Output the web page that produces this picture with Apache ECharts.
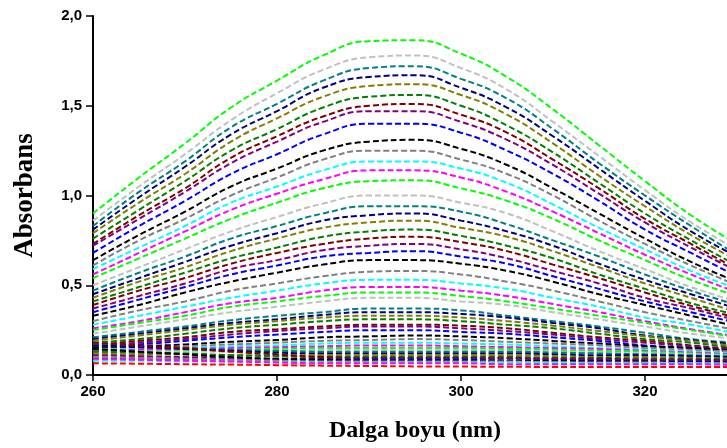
<!DOCTYPE html>
<html>
<head>
<meta charset="utf-8">
<title>Absorbans</title>
<script src="https://cdn.jsdelivr.net/npm/echarts@6/dist/echarts.min.js"></script>
<style>
  html, body { margin: 0; padding: 0; background: #ffffff; }
  #chart { width: 727px; height: 448px; }
</style>
</head>
<body>
<div id="chart"></div>
<script>
// Wavelengths (nm) at which each spectrum is sampled
const wavelengths = [260, 265, 270, 275, 280, 285, 290, 295, 300, 305, 310, 315, 320, 325, 330];

// Absorbance spectra, highest first
const spectra = [
  [0.90, 1.10, 1.29, 1.49, 1.64, 1.78, 1.86, 1.865, 1.79, 1.66, 1.48, 1.28, 1.08, 0.89, 0.73],
  [0.86, 1.05, 1.23, 1.42, 1.57, 1.70, 1.77, 1.78, 1.71, 1.59, 1.41, 1.22, 1.03, 0.85, 0.70],
  [0.83, 1.02, 1.19, 1.38, 1.51, 1.64, 1.71, 1.72, 1.65, 1.54, 1.37, 1.18, 1.00, 0.83, 0.67],
  [0.81, 0.99, 1.16, 1.34, 1.47, 1.60, 1.66, 1.67, 1.60, 1.49, 1.33, 1.15, 0.97, 0.80, 0.66],
  [0.79, 0.96, 1.12, 1.30, 1.43, 1.55, 1.61, 1.62, 1.56, 1.45, 1.29, 1.11, 0.94, 0.78, 0.64],
  [0.76, 0.92, 1.08, 1.25, 1.37, 1.49, 1.55, 1.56, 1.50, 1.39, 1.24, 1.07, 0.90, 0.75, 0.61],
  [0.73, 0.89, 1.04, 1.21, 1.33, 1.44, 1.50, 1.51, 1.45, 1.35, 1.20, 1.04, 0.87, 0.73, 0.59],
  [0.72, 0.87, 1.02, 1.18, 1.30, 1.41, 1.47, 1.47, 1.41, 1.31, 1.17, 1.01, 0.85, 0.71, 0.58],
  [0.68, 0.83, 0.97, 1.12, 1.23, 1.34, 1.40, 1.40, 1.35, 1.25, 1.12, 0.97, 0.81, 0.68, 0.55],
  [0.64, 0.78, 0.91, 1.05, 1.15, 1.25, 1.30, 1.31, 1.26, 1.17, 1.04, 0.90, 0.76, 0.63, 0.52],
  [0.61, 0.75, 0.87, 1.00, 1.10, 1.20, 1.25, 1.25, 1.20, 1.12, 1.00, 0.86, 0.73, 0.61, 0.50],
  [0.59, 0.71, 0.83, 0.96, 1.05, 1.14, 1.19, 1.19, 1.15, 1.07, 0.95, 0.82, 0.70, 0.58, 0.48],
  [0.56, 0.68, 0.80, 0.92, 1.01, 1.09, 1.14, 1.14, 1.10, 1.02, 0.91, 0.79, 0.67, 0.56, 0.46],
  [0.54, 0.65, 0.76, 0.87, 0.96, 1.04, 1.08, 1.085, 1.04, 0.97, 0.87, 0.75, 0.64, 0.53, 0.44],
  [0.50, 0.60, 0.70, 0.80, 0.88, 0.955, 1.00, 1.00, 0.96, 0.90, 0.80, 0.69, 0.59, 0.49, 0.41],
  [0.47, 0.57, 0.66, 0.76, 0.83, 0.90, 0.94, 0.94, 0.91, 0.84, 0.75, 0.66, 0.56, 0.47, 0.39],
  [0.45, 0.54, 0.63, 0.72, 0.79, 0.86, 0.89, 0.90, 0.86, 0.80, 0.72, 0.62, 0.53, 0.45, 0.37],
  [0.43, 0.52, 0.60, 0.69, 0.76, 0.82, 0.85, 0.86, 0.82, 0.77, 0.69, 0.60, 0.51, 0.43, 0.35],
  [0.41, 0.49, 0.57, 0.65, 0.71, 0.77, 0.80, 0.81, 0.775, 0.72, 0.65, 0.56, 0.48, 0.40, 0.335],
  [0.39, 0.47, 0.54, 0.62, 0.68, 0.73, 0.76, 0.77, 0.74, 0.69, 0.615, 0.54, 0.46, 0.385, 0.32],
  [0.37, 0.44, 0.51, 0.59, 0.64, 0.695, 0.72, 0.73, 0.70, 0.65, 0.58, 0.51, 0.43, 0.37, 0.305],
  [0.35, 0.42, 0.49, 0.56, 0.61, 0.66, 0.68, 0.69, 0.66, 0.62, 0.55, 0.48, 0.41, 0.35, 0.29],
  [0.33, 0.39, 0.46, 0.52, 0.57, 0.615, 0.64, 0.64, 0.62, 0.58, 0.52, 0.45, 0.39, 0.33, 0.27],
  [0.30, 0.36, 0.41, 0.47, 0.51, 0.55, 0.575, 0.58, 0.56, 0.52, 0.47, 0.41, 0.35, 0.30, 0.25],
  [0.28, 0.33, 0.38, 0.43, 0.47, 0.51, 0.53, 0.53, 0.51, 0.48, 0.43, 0.38, 0.32, 0.28, 0.23],
  [0.26, 0.30, 0.35, 0.40, 0.43, 0.47, 0.49, 0.49, 0.47, 0.44, 0.395, 0.35, 0.30, 0.255, 0.215],
  [0.25, 0.29, 0.33, 0.38, 0.41, 0.44, 0.46, 0.46, 0.44, 0.41, 0.37, 0.33, 0.29, 0.25, 0.21],
  [0.23, 0.27, 0.31, 0.35, 0.38, 0.41, 0.43, 0.43, 0.41, 0.39, 0.35, 0.31, 0.27, 0.23, 0.20],
  [0.21, 0.24, 0.27, 0.305, 0.33, 0.35, 0.37, 0.37, 0.36, 0.33, 0.30, 0.27, 0.235, 0.20, 0.18],
  [0.20, 0.23, 0.26, 0.29, 0.31, 0.335, 0.35, 0.35, 0.34, 0.32, 0.29, 0.26, 0.22, 0.195, 0.17],
  [0.19, 0.22, 0.25, 0.28, 0.30, 0.32, 0.33, 0.33, 0.32, 0.30, 0.275, 0.245, 0.215, 0.19, 0.16],
  [0.18, 0.20, 0.23, 0.26, 0.28, 0.30, 0.31, 0.31, 0.30, 0.28, 0.26, 0.23, 0.20, 0.18, 0.15],
  [0.165, 0.19, 0.21, 0.24, 0.255, 0.27, 0.28, 0.28, 0.275, 0.26, 0.235, 0.21, 0.19, 0.165, 0.145],
  [0.16, 0.18, 0.20, 0.225, 0.245, 0.26, 0.27, 0.27, 0.26, 0.245, 0.225, 0.20, 0.18, 0.16, 0.14],
  [0.15, 0.17, 0.19, 0.21, 0.225, 0.24, 0.25, 0.25, 0.24, 0.23, 0.21, 0.19, 0.165, 0.15, 0.13],
  [0.15, 0.16, 0.17, 0.185, 0.195, 0.21, 0.215, 0.22, 0.215, 0.205, 0.19, 0.175, 0.16, 0.15, 0.135],
  [0.145, 0.15, 0.16, 0.17, 0.18, 0.19, 0.195, 0.20, 0.195, 0.185, 0.175, 0.165, 0.15, 0.14, 0.13],
  [0.14, 0.145, 0.15, 0.16, 0.165, 0.175, 0.18, 0.18, 0.175, 0.17, 0.16, 0.15, 0.14, 0.13, 0.12],
  [0.135, 0.14, 0.145, 0.15, 0.155, 0.16, 0.165, 0.165, 0.16, 0.155, 0.15, 0.145, 0.135, 0.125, 0.115],
  [0.13, 0.13, 0.135, 0.14, 0.145, 0.15, 0.15, 0.15, 0.15, 0.145, 0.14, 0.135, 0.13, 0.12, 0.11],
  [0.125, 0.125, 0.13, 0.13, 0.135, 0.14, 0.14, 0.14, 0.14, 0.135, 0.13, 0.125, 0.12, 0.115, 0.105],
  [0.17, 0.16, 0.15, 0.14, 0.135, 0.13, 0.13, 0.13, 0.13, 0.13, 0.125, 0.12, 0.115, 0.11, 0.10],
  [0.165, 0.155, 0.145, 0.135, 0.125, 0.12, 0.12, 0.12, 0.12, 0.12, 0.115, 0.11, 0.11, 0.105, 0.10],
  [0.12, 0.115, 0.115, 0.11, 0.11, 0.11, 0.11, 0.11, 0.11, 0.11, 0.105, 0.10, 0.10, 0.095, 0.09],
  [0.13, 0.125, 0.12, 0.11, 0.105, 0.10, 0.10, 0.10, 0.10, 0.10, 0.095, 0.095, 0.09, 0.09, 0.085],
  [0.18, 0.165, 0.15, 0.13, 0.115, 0.10, 0.095, 0.095, 0.095, 0.095, 0.09, 0.09, 0.085, 0.085, 0.08],
  [0.11, 0.105, 0.10, 0.095, 0.09, 0.09, 0.09, 0.09, 0.09, 0.09, 0.09, 0.085, 0.085, 0.08, 0.08],
  [0.095, 0.09, 0.09, 0.085, 0.085, 0.085, 0.085, 0.085, 0.085, 0.08, 0.08, 0.08, 0.075, 0.075, 0.07],
  [0.145, 0.13, 0.115, 0.10, 0.09, 0.085, 0.08, 0.08, 0.08, 0.08, 0.08, 0.075, 0.075, 0.07, 0.07],
  [0.10, 0.095, 0.09, 0.085, 0.08, 0.075, 0.075, 0.075, 0.075, 0.075, 0.07, 0.07, 0.07, 0.065, 0.065],
  [0.08, 0.08, 0.075, 0.075, 0.07, 0.07, 0.07, 0.07, 0.07, 0.07, 0.07, 0.065, 0.065, 0.065, 0.06],
  [0.09, 0.085, 0.08, 0.075, 0.07, 0.065, 0.065, 0.065, 0.065, 0.06, 0.06, 0.06, 0.06, 0.06, 0.055],
  [0.065, 0.063, 0.06, 0.058, 0.055, 0.052, 0.05, 0.048, 0.047, 0.046, 0.045, 0.045, 0.045, 0.045, 0.045]
];

// Line colours, cycled from the top spectrum downwards
const palette = ['#00ff00', '#c0c0c0', '#008080', '#000080', '#808000', '#008000', '#800000',
                 '#800080', '#0000ff', '#000000', '#808080', '#00ffff', '#ff00ff'];
const lastColor = '#ff0000';

const xName = 'Dalga boyu (nm)';
const yName = 'Absorbans';

const series = spectra.map((row, i) => ({
  type: 'line',
  data: row.map((v, j) => [wavelengths[j], v]),
  showSymbol: false,
  smooth: 0.5,
  silent: true,
  lineStyle: {
    width: 2,
    type: [6, 3],
    color: i === spectra.length - 1 ? lastColor : palette[i % palette.length]
  }
}));

const chart = echarts.init(document.getElementById('chart'), null, { renderer: 'canvas' });
chart.setOption({
  animation: false,
  backgroundColor: '#ffffff',
  // the plot runs a little past the right edge of the canvas
  grid: { left: 93, top: 16, width: 644, height: 359, containLabel: false, outerBoundsMode: 'none' },
  xAxis: {
    type: 'value',
    min: 260,
    max: 330,
    interval: 20,
    name: xName,
    nameLocation: 'middle',
    nameGap: 44,
    nameTextStyle: { fontFamily: 'Liberation Serif', fontWeight: 'bold', fontSize: 24, color: '#000' },
    axisLine: { show: true, lineStyle: { color: '#000', width: 2 } },
    axisTick: { show: true, length: 6, lineStyle: { color: '#000', width: 1.5 } },
    axisLabel: {
      margin: 9,
      fontFamily: 'Liberation Sans', fontWeight: 'bold', fontSize: 15, color: '#000',
      formatter: v => (v % 20 === 0 ? String(v) : '')
    },
    splitLine: { show: false }
  },
  yAxis: {
    type: 'value',
    min: 0,
    max: 2,
    interval: 0.5,
    name: yName,
    nameLocation: 'middle',
    nameGap: 54,
    nameTextStyle: { fontFamily: 'Liberation Serif', fontWeight: 'bold', fontSize: 27, color: '#000' },
    axisLine: { show: true, lineStyle: { color: '#000', width: 2 } },
    axisTick: { show: true, length: 7, lineStyle: { color: '#000', width: 1.5 } },
    axisLabel: {
      margin: 11,
      fontFamily: 'Liberation Sans', fontWeight: 'bold', fontSize: 15, color: '#000',
      formatter: v => v.toFixed(1).replace('.', ',')
    },
    splitLine: { show: false }
  },
  series: series
});
</script>
</body>
</html>
